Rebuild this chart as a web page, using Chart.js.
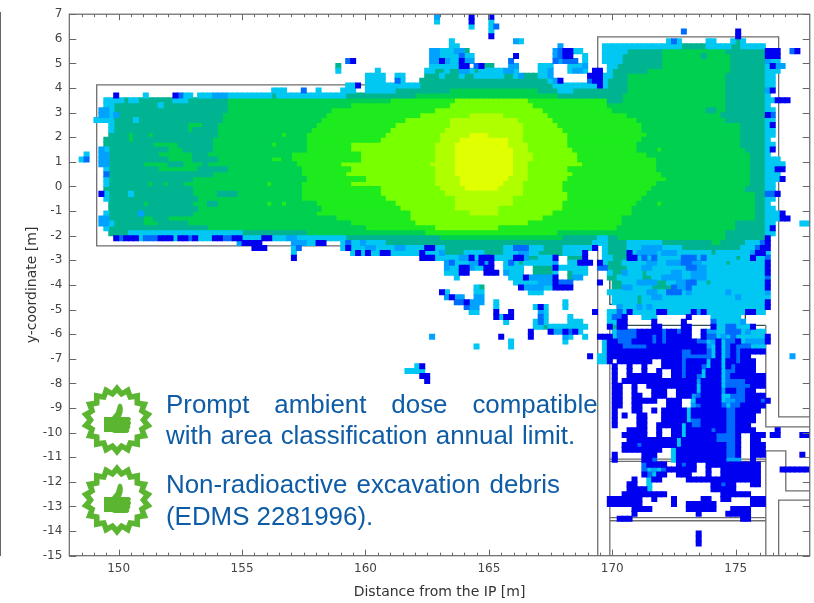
<!DOCTYPE html>
<html>
<head>
<meta charset="utf-8">
<title>Prompt ambient dose</title>
<script src="https://cdn.jsdelivr.net/npm/chart.js@4"></script>
<style>
  html, body { margin: 0; padding: 0; background: #fff; }
  #wrap { position: relative; width: 814px; height: 603px; overflow: hidden; }
  #dose-chart { position: absolute; left: 0; top: 0; filter: blur(0.4px); }
  #edge { position: absolute; left: 0; top: 12px; width: 1px; height: 544px; background: #666; }
  .note { position: absolute; left: 166px; font: 25.9px "Liberation Sans", Arial, sans-serif; color: #0f5ca6; white-space: nowrap; line-height: 30px; }
  .badge { position: absolute; left: 80px; width: 74px; height: 74px; }
</style>
</head>
<body>
<div id="wrap">
  <canvas id="dose-chart" width="814" height="603"></canvas>
  <div id="edge"></div>
  <svg class="badge" style="top:383px" viewBox="-37 -37 74 74"></svg>
  <svg class="badge" style="top:463px" viewBox="-37 -37 74 74"></svg>
  <div class="note" style="top:389px;word-spacing:17.7px">Prompt ambient dose compatible</div>
  <div class="note" style="top:420px;word-spacing:1.2px">with area classification annual limit.</div>
  <div class="note" style="top:469px;word-spacing:2px">Non-radioactive excavation debris</div>
  <div class="note" style="top:501px">(EDMS 2281996).</div>
</div>
<script>
const xTicks = [150, 155, 160, 165, 170, 175];
const yTicks = [7, 6, 5, 4, 3, 2, 1, 0, -1, -2, -3, -4, -5, -6, -7, -8, -9, -10, -11, -12, -13, -14, -15];
const xMinorTicks = [148.5, 149, 149.5, 150.5, 151, 151.5, 152, 152.5, 153, 153.5, 154, 154.5, 155.5, 156, 156.5, 157, 157.5, 158, 158.5, 159, 159.5, 160.5, 161, 161.5, 162, 162.5, 163, 163.5, 164, 164.5, 165.5, 166, 166.5, 167, 167.5, 168, 168.5, 169, 169.5, 170.5, 171, 171.5, 172, 172.5, 173, 173.5, 174, 174.5, 175.5, 176, 176.5, 177, 177.5];

// one colour per dose band, lowest first
const doseColours = ['#0000f0', '#006cff', '#00a2ff', '#00c8f2', '#00b492', '#00d050', '#1eeb1e', '#78ff00', '#b0ff00', '#e0ff00'];

// 0.2 m cells. Each row starts at y=7 going down, tokens are "column:band" and run up to the next token
const doseRows = [
  "74:2 75:. 81:0 82:. 85:0 86:.",
  "74:3 75:. 81:0 82:. 85:3 86:.",
  "81:3 82:. 85:3 86:1 87:.",
  "85:3 86:. 124:1 125:. 135:0 136:.",
  "85:0 86:. 135:0 136:.",
  "77:3 78:. 90:2 91:3 92:. 121:3 122:1 123:3 124:. 129:3 131:. 134:3 135:4 136:3 137:.",
  "77:3 79:. 99:2 100:. 108:3 124:4 129:3 134:4 136:3 141:.",
  "73:2 75:3 78:2 80:4 81:. 98:2 99:1 100:0 102:3 104:. 108:3 113:4 120:5 133:4 141:0 143:0 144:. 146:1 147:0 148:.",
  "73:2 75:3 79:1 80:3 82:. 90:0 91:. 98:2 99:1 100:0 102:. 104:3 105:. 108:3 112:4 120:5 128:4 129:5 134:4 141:0 144:.",
  "56:1 57:0 58:. 73:2 75:0 76:2 77:3 79:0 80:2 82:. 89:1 90:. 98:1 99:2 100:1 103:. 104:3 105:. 108:3 112:4 120:5 134:4 141:2 142:3 144:.",
  "54:4 55:. 73:3 79:0 81:. 82:1 83:0 84:4 86:. 89:2 91:. 95:3 98:. 101:3 104:2 105:. 109:3 111:4 120:5 134:4 141:3 142:0 143:2 145:.",
  "54:3 55:. 62:3 63:. 72:3 74:4 76:3 77:4 79:2 81:3 82:4 83:3 88:2 90:3 91:. 95:3 97:2 98:. 101:3 102:2 104:3 105:. 106:0 108:. 109:3 110:4 117:5 134:4 141:3 144:.",
  "60:3 64:. 66:3 68:. 72:4 75:3 76:4 79:3 80:4 82:3 88:4 90:3 91:2 92:4 95:3 97:2 98:. 105:0 108:3 110:4 113:5 133:4 141:3 143:.",
  "60:3 64:. 66:1 67:3 68:. 71:4 96:4 97:3 98:2 99:0 100:. 105:1 106:0 108:3 109:4 113:5 133:4 141:3 143:.",
  "56:3 58:0 59:. 60:3 71:4 98:3 106:3 107:0 108:3 109:4 113:5 133:4 141:3 143:.",
  "41:3 44:. 47:1 48:. 50:3 51:. 55:3 58:. 60:3 66:4 77:5 95:4 99:3 102:4 109:4 113:5 133:4 141:2 142:0 143:.",
  "9:0 10:. 15:3 16:. 21:0 22:1 23:3 25:. 26:3 29:2 32:3 41:4 42:3 56:4 70:5 99:4 112:5 133:4 141:3 142:.",
  "7:3 11:4 12:3 14:4 21:3 24:4 32:5 65:6 78:7 93:6 109:4 112:5 133:4 141:3 143:0 146:.",
  "7:3 9:4 18:3 19:4 32:5 57:6 77:7 94:6 109:5 133:4 141:3 142:.",
  "6:2 8:3 9:4 32:5 53:6 74:7 96:6 110:5 129:4 131:5 133:4 141:3 143:.",
  "6:2 8:3 9:2 10:4 31:5 52:6 71:7 81:8 88:7 97:6 113:5 132:4 141:0 142:1 143:.",
  "5:3 7:3 9:4 13:3 14:4 31:5 51:6 68:7 77:8 91:7 98:6 115:5 133:4 141:3 143:.",
  "8:3 9:4 24:5 27:4 30:5 50:6 66:7 77:8 92:7 99:6 116:5 136:4 141:3 142:0 143:.",
  "8:3 9:4 24:5 25:4 30:5 49:6 65:7 76:8 92:7 100:6 116:5 136:4 141:3 143:.",
  "8:4 12:5 13:4 16:5 17:4 30:5 43:6 44:5 48:6 64:7 75:8 81:9 85:8 92:7 101:6 117:5 136:4 141:3 143:.",
  "7:4 12:5 13:4 29:5 48:6 63:7 75:8 79:9 89:8 92:7 101:6 116:5 136:4 141:3 142:.",
  "7:4 17:5 22:4 29:5 41:6 42:5 48:6 57:7 74:8 78:9 89:8 93:7 101:6 115:5 136:4 141:3 143:.",
  "6:2 7:3 8:4 20:5 23:4 29:5 48:6 57:7 74:8 78:9 90:8 93:7 102:6 115:5 119:6 120:5 137:4 141:3 142:0 143:.",
  "3:3 4:. 6:2 8:4 18:5 25:4 28:5 45:6 59:7 74:8 78:9 90:8 94:7 103:6 117:5 138:4 141:3 142:.",
  "2:3 3:1 4:. 6:2 8:4 20:5 25:4 30:5 41:6 43:5 45:6 59:7 74:8 78:9 90:8 94:7 103:6 119:5 138:4 141:3 144:.",
  "6:2 8:4 15:5 20:4 23:5 27:4 28:5 46:6 55:7 73:8 78:9 90:8 93:7 104:6 119:5 138:4 141:3 145:.",
  "7:3 8:4 18:5 26:4 32:5 47:6 57:7 74:8 78:9 90:8 93:7 101:6 119:5 138:4 141:3 143:0 145:.",
  "7:1 8:4 29:5 47:6 56:7 74:8 78:9 90:8 93:7 102:6 120:5 138:4 141:3 144:.",
  "7:3 8:4 25:5 48:6 60:7 74:8 79:9 89:8 93:7 101:6 121:5 138:4 141:3 144:0 145:.",
  "7:3 8:4 16:5 17:4 19:5 20:4 23:5 40:6 41:5 47:6 57:7 74:8 79:9 88:8 92:7 100:6 119:5 138:4 141:3 143:.",
  "7:4 25:5 47:6 63:7 75:8 80:9 87:8 92:7 100:6 118:5 137:4 141:3 143:.",
  "6:0 7:3 8:4 12:3 13:4 25:5 30:4 34:5 47:6 63:7 76:8 92:7 101:6 117:5 139:4 141:1 143:0 144:.",
  "7:3 8:4 26:5 47:6 64:7 78:8 90:7 101:6 116:5 139:4 141:3 143:.",
  "8:4 15:5 16:4 25:5 28:4 30:5 40:6 41:5 43:6 44:5 50:6 66:7 78:8 90:7 100:6 115:5 119:6 120:5 139:4 141:3 142:.",
  "8:4 26:5 51:6 67:7 78:8 87:7 100:6 114:5 139:4 141:3 143:.",
  "7:3 8:4 14:2 15:4 25:5 50:6 69:7 81:8 87:7 98:6 114:5 139:4 141:3 144:0 145:.",
  "6:2 8:4 15:5 17:4 20:5 54:6 69:7 96:6 112:5 139:4 141:3 144:0 146:.",
  "6:2 8:3 9:4 15:5 18:4 24:5 57:6 70:7 93:6 112:5 135:4 141:3 143:. 148:3 150:.",
  "7:3 8:4 28:5 60:6 74:7 87:6 111:5 135:4 141:3 142:0 143:.",
  "8:4 12:3 35:4 48:5 72:6 99:5 133:4 141:3 143:.",
  "9:0 10:1 11:0 14:3 15:1 18:0 21:3 22:0 24:1 25:0 26:3 29:0 31:1 33:0 35:3 39:0 41:3 44:2 46:3 56:4 75:5 100:4 107:3 109:4 111:5 133:4 141:0 142:.",
  "34:2 35:0 38:0 39:. 45:2 48:3 50:0 52:. 55:3 56:1 57:3 59:2 60:3 64:4 99:4 106:3 109:4 113:3 120:4 130:5 132:4 137:3 140:1 141:0 142:.",
  "37:0 40:. 45:3 46:1 47:. 55:3 56:0 57:3 60:2 62:3 66:2 68:3 72:0 74:3 76:4 88:3 90:1 93:3 96:4 100:3 106:0 107:. 108:3 109:4 113:3 116:2 120:3 124:4 136:3 139:1 140:0 142:.",
  "45:3 46:. 57:3 58:0 59:3 60:0 61:3 63:0 65:3 71:0 72:3 75:2 76:4 80:3 84:4 88:3 91:2 93:3 95:4 100:3 104:0 105:. 108:3 109:4 113:0 114:3 115:2 119:3 120:2 123:3 130:4 131:3 138:2 139:0 141:3 142:.",
  "45:0 46:. 71:0 74:3 79:2 81:0 82:3 83:0 86:3 90:0 92:2 93:4 95:3 98:0 99:. 101:4 104:0 105:. 108:3 110:4 113:0 115:3 116:1 117:3 118:1 119:3 124:1 127:3 128:1 129:3 135:4 136:3 138:0 139:3 141:1 142:.",
  "76:2 77:1 78:3 81:2 83:0 84:2 85:0 86:. 88:3 89:1 90:3 91:4 92:3 98:2 99:. 101:3 103:0 106:. 107:0 108:3 109:4 112:3 117:2 119:3 121:2 124:1 126:2 128:3 133:4 134:3 141:0 142:.",
  "76:2 77:3 79:0 81:2 82:3 84:0 86:. 88:3 92:. 94:4 98:0 99:3 105:. 107:1 109:4 113:3 116:2 118:3 125:1 127:2 129:3 141:0 142:.",
  "76:3 79:0 81:. 84:0 87:. 88:2 89:3 92:. 94:4 98:3 99:. 101:4 102:3 105:. 109:3 110:4 112:2 113:3 116:4 117:3 122:2 124:3 126:2 129:3 141:0 142:.",
  "78:3 79:. 89:3 92:0 93:2 98:0 99:. 101:4 102:2 104:. 109:4 111:3 116:4 118:3 120:2 124:3 126:2 129:3 141:1 142:.",
  "90:3 95:2 98:0 99:1 102:. 107:0 108:. 110:4 112:3 115:2 119:4 121:3 123:2 125:1 127:3 129:4 130:3 141:0 142:.",
  "82:3 83:4 84:. 91:0 92:2 96:3 98:0 102:. 110:4 112:2 114:3 118:4 122:1 123:2 125:1 126:3 141:0 142:.",
  "75:0 76:3 77:. 82:3 84:. 93:3 96:. 109:3 117:2 119:3 121:1 124:3 125:2 126:3 133:2 134:3 141:2 142:.",
  "76:2 77:0 78:2 80:. 82:2 84:. 110:3 115:4 116:3 118:2 120:3 135:2 136:3 142:.",
  "78:1 80:0 81:2 84:. 86:3 87:. 100:3 101:. 110:3 115:4 116:3 141:0 142:.",
  "80:1 81:2 83:. 86:3 87:. 94:3 95:0 96:3 97:. 100:3 101:. 111:2 112:3 115:2 116:3 117:2 118:3 141:0 142:.",
  "81:3 83:. 86:0 87:. 89:0 90:. 95:2 96:3 97:. 106:0 107:. 109:3 111:1 112:3 113:0 114:3 119:0 121:3 126:0 127:2 128:0 129:3 137:0 139:3 141:.",
  "86:0 87:3 88:0 90:. 95:1 96:3 97:. 101:3 102:. 109:3 110:1 112:0 113:. 116:3 119:. 125:0 126:. 130:3 136:.",
  "88:3 89:. 94:3 95:1 96:3 97:. 101:3 104:. 109:3 111:0 113:. 118:0 119:. 124:0 125:. 130:1 131:3 136:2 137:.",
  "94:3 96:4 97:3 105:. 109:0 110:4 111:0 113:. 118:0 120:. 124:0 126:. 130:0 131:3 133:1 135:3 138:0 139:.",
  "93:0 94:. 97:0 98:2 100:0 101:1 102:0 103:3 104:. 110:3 111:1 115:0 120:1 121:0 123:1 124:0 126:. 128:0 129:2 131:3 133:1 136:3 137:2 138:3 141:.",
  "73:2 74:. 87:0 88:. 93:0 94:. 100:2 101:3 102:. 104:3 105:. 107:0 109:0 110:3 111:1 115:0 118:1 119:0 120:1 121:0 126:. 128:0 129:1 131:3 132:2 133:3 134:1 135:3 140:3 141:0 142:.",
  "89:3 90:. 100:3 101:. 108:3 109:0 111:1 114:0 118:1 119:0 120:1 121:0 127:1 129:3 130:2 131:0 132:3 133:1 135:0 136:3 137:2 141:0 142:.",
  "82:3 83:. 89:3 90:. 108:3 109:0 112:1 117:0 127:0 129:2 130:3 131:0 132:3 133:1 134:0 135:1 138:3 141:.",
  "108:3 109:0 124:1 126:0 129:1 130:3 131:0 132:3 133:1 134:0 135:1 136:0 141:.",
  "105:0 106:. 107:3 109:0 124:1 129:1 130:3 131:0 132:3 133:1 134:0 135:1 136:0 138:. 146:2 147:.",
  "107:3 109:0 110:. 111:0 118:. 120:0 124:1 125:0 129:3 130:0 132:3 133:0 135:1 136:0 139:.",
  "70:3 71:0 72:. 110:0 111:. 113:0 114:. 116:0 117:. 120:0 124:1 125:0 128:1 129:3 130:0 132:3 133:0 134:1 135:0 139:.",
  "68:3 71:3 72:. 110:0 111:. 113:0 114:. 116:0 117:. 119:0 120:. 122:0 124:1 125:0 128:3 129:0 132:3 133:1 135:0 139:.",
  "71:0 73:. 110:0 111:. 113:0 120:. 122:0 124:1 125:0 127:1 128:3 129:0 132:3 133:1 134:0 141:.",
  "72:0 73:. 110:0 111:. 112:0 127:2 128:0 132:3 133:1 137:0 141:.",
  "110:0 112:. 114:0 115:. 117:0 127:3 128:0 132:3 133:1 138:0 141:.",
  "110:0 112:. 114:0 115:. 118:0 121:. 123:0 127:3 128:0 132:2 133:0 135:1 137:0 139:.",
  "110:0 112:. 114:0 116:. 118:0 121:. 123:0 126:2 127:1 128:0 132:3 134:1 137:0 141:.",
  "110:0 112:. 114:0 119:. 121:0 124:. 126:3 127:0 132:3 133:2 135:1 137:0 140:1 141:0 142:.",
  "110:0 112:. 114:0 116:. 121:0 124:. 126:2 127:1 128:0 132:1 133:3 134:1 136:0 141:.",
  "110:0 111:. 114:0 116:. 118:0 119:. 120:0 125:3 126:0 133:1 135:0 140:.",
  "110:0 111:. 112:0 113:. 115:0 117:. 120:0 125:3 126:0 133:1 135:0 139:.",
  "110:0 111:. 115:0 117:. 120:0 125:3 126:1 128:0 133:1 135:0 139:.",
  "110:0 111:. 115:0 117:. 119:0 124:3 125:0 126:1 128:0 133:1 135:0 138:.",
  "113:0 117:. 119:0 120:. 122:0 124:3 125:0 130:1 131:0 133:1 135:0 139:. 143:0 144:.",
  "112:0 117:. 119:0 120:. 122:0 124:3 125:0 131:1 133:1 135:0 136:. 138:0 141:. 142:0 144:. 148:0 150:.",
  "113:0 123:3 124:0 131:1 135:0 136:. 138:0 140:.",
  "112:0 115:1 116:0 123:3 124:0 133:1 135:0 136:. 138:0 141:.",
  "112:0 120:. 122:3 123:0 133:1 135:0 136:. 138:0 141:.",
  "110:0 111:. 116:0 119:. 122:3 123:0 133:1 135:0 136:. 138:0 141:. 148:0 149:.",
  "110:0 111:. 116:0 118:1 119:. 122:3 123:0 133:2 136:. 138:0 139:.",
  "116:1 117:0 121:. 123:0 124:1 125:0 127:. 129:0 140:.",
  "116:1 117:3 118:2 119:3 120:1 121:0 127:. 129:0 130:. 132:0 140:. 144:0 150:.",
  "116:0 117:1 118:3 119:0 121:. 123:0 126:. 129:0 130:. 132:0 140:.",
  "114:0 115:. 117:3 118:0 120:. 125:0 140:.",
  "113:0 115:. 117:3 118:. 130:0 132:1 133:0 135:. 138:0 140:.",
  "113:0 117:3 118:. 130:0 135:.",
  "112:0 121:. 132:0 138:.",
  "109:0 116:. 118:0 119:. 122:0 123:. 128:0 130:. 132:0 134:. 138:0 141:.",
  "109:0 116:. 122:0 123:. 125:0 131:. 138:0 141:.",
  "114:0 118:. 125:0 131:. 134:0 138:.",
  "114:0 115:. 127:0 128:. 133:0 138:.",
  "111:0 114:. 136:0 138:.",
  "",
  "",
  "127:0 128:.",
  "127:0 128:.",
  "127:0 128:."
];

// tunnel outlines in metres, [x, y] corners
const innerOutline = [[149.81, 3.56], [169.9, 3.56], [169.9, 5.58], [176.22, 5.58], [176.22, -2.14], [175.39, -2.14], [175.39, -2.94], [176.22, -2.94], [176.22, -4.79], [175.39, -4.79], [175.39, -5.64], [176.22, -5.64]];
const innerOutlineLeft = [[149.81, 3.56], [149.81, -1.84], [169.9, -1.84], [169.9, -2.14], [170.2, -2.14], [170.2, -2.94], [169.9, -2.94], [169.9, -4.79], [170.2, -4.79], [170.2, -5.64], [169.9, -5.64]];
const alcoveTop = [[170.58, -2.14], [174.07, -2.14], [174.07, -2.94], [170.58, -2.94], [170.58, -2.14]];
const alcoveBottom = [[170.58, -4.79], [174.07, -4.79], [174.07, -5.64], [170.58, -5.64], [170.58, -4.79]];
const outerTop = [[169.41, 4.13], [149.11, 4.13], [149.11, -2.41], [169.41, -2.41], [169.41, -15]];
const outerRight = [[169.41, 4.13], [169.41, 6.08], [176.74, 6.08], [176.74, -9.36], [178, -9.36]];
const shaftLeft = [[169.9, -5.64], [169.9, -15]];
const shaftRight = [[176.22, -5.64], [176.22, -9.77], [178, -9.77]];
const shaftRightLow = [[178, -12.37], [177.03, -12.37], [177.03, -10.74], [176.22, -10.74], [176.22, -15]];
const sideGallery = [[178, -12.74], [176.74, -12.74], [176.74, -15]];
const floorA = [[169.9, -11.08], [176.22, -11.08]];
const floorB = [[169.9, -11.17], [176.22, -11.17]];
const floorC = [[169.9, -13.45], [176.22, -13.45]];
const floorD = [[169.9, -13.58], [176.22, -13.58]];

function rowsToBands(rows) {
  const bands = doseColours.map(() => []);
  rows.forEach((row, j) => {
    const tokens = row.split(' ').filter(Boolean).map(t => t.split(':'));
    tokens.forEach((t, k) => {
      if (t[1] === '.' || k === tokens.length - 1) return;
      const start = Number(t[0]);
      const end = Number(tokens[k + 1][0]);
      for (let i = start; i < end; i++) {
        bands[Number(t[1])].push({ x: 148 + 0.2 * (i + 0.5), y: 7 - 0.2 * (j + 0.5) });
      }
    });
  });
  return bands;
}

function outlineDataset(points, color) {
  return {
    type: 'scatter',
    data: points.map(p => ({ x: p[0], y: p[1] })),
    showLine: true,
    borderColor: color,
    borderWidth: 1.3,
    pointRadius: 0,
  };
}

// rects overlap by about a pixel so the antialiased edges leave no seams
const cellDatasets = rowsToBands(doseRows).map((cells, i) => ({
  data: cells,
  pointStyle: 'rect',
  pointRadius: 4.25,
  pointBorderWidth: 0,
  pointBorderColor: doseColours[i],
  backgroundColor: doseColours[i],
  pointBackgroundColor: doseColours[i],
}));

const GREY = '#6e6e6e';
const DARK = 'rgba(10,50,50,0.85)';
const outlineDatasets = [
  outlineDataset(outerTop, GREY),
  outlineDataset(outerRight, GREY),
  outlineDataset(shaftLeft, GREY),
  outlineDataset(shaftRight, GREY),
  outlineDataset(shaftRightLow, GREY),
  outlineDataset(sideGallery, GREY),
  outlineDataset(floorA, GREY),
  outlineDataset(floorB, GREY),
  outlineDataset(floorC, GREY),
  outlineDataset(floorD, GREY),
  outlineDataset(innerOutline, DARK),
  outlineDataset(innerOutlineLeft, DARK),
  outlineDataset(alcoveTop, DARK),
  outlineDataset(alcoveBottom, DARK),
];

// gnuplot style frame, ticks point inwards on all four sides
const framePlugin = {
  id: 'frame',
  afterDatasetsDraw(chart) {
    const { ctx, chartArea: a, scales } = chart;
    ctx.save();
    ctx.strokeStyle = '#666';
    ctx.lineWidth = 1;
    ctx.beginPath();
    xTicks.forEach(v => {
      const px = Math.round(scales.x.getPixelForValue(v)) + 0.5;
      ctx.moveTo(px, a.bottom); ctx.lineTo(px, a.bottom - 6);
      ctx.moveTo(px, a.top); ctx.lineTo(px, a.top + 6);
    });
    xMinorTicks.forEach(v => {
      const px = Math.round(scales.x.getPixelForValue(v)) + 0.5;
      ctx.moveTo(px, a.bottom); ctx.lineTo(px, a.bottom - 3);
      ctx.moveTo(px, a.top); ctx.lineTo(px, a.top + 3);
    });
    yTicks.forEach(v => {
      const py = Math.round(scales.y.getPixelForValue(v)) + 0.5;
      ctx.moveTo(a.left, py); ctx.lineTo(a.left + 7, py);
      ctx.moveTo(a.right, py); ctx.lineTo(a.right - 7, py);
    });
    ctx.stroke();
    ctx.lineWidth = 1.2;
    ctx.strokeRect(a.left, a.top, a.right - a.left, a.bottom - a.top);
    ctx.restore();
  },
};

new Chart(document.getElementById('dose-chart'), {
  type: 'scatter',
  data: { datasets: cellDatasets.concat(outlineDatasets) },
  plugins: [framePlugin],
  options: {
    responsive: false,
    animation: false,
    layout: { padding: { top: 13.3, right: 3, left: 0, bottom: 0 } },
    plugins: { legend: { display: false }, tooltip: { enabled: false } },
    scales: {
      x: {
        type: 'linear',
        min: 148,
        max: 178,
        afterBuildTicks: s => { s.ticks = xTicks.map(v => ({ value: v })); },
        afterFit: s => { s.height = 47.3; },
        grid: { display: false, drawTicks: false },
        border: { display: false },
        ticks: { color: '#444', padding: 6, maxRotation: 0, font: { family: 'DejaVu Sans', size: 12 }, callback: v => String(v) },
        title: { display: true, text: 'Distance from the IP [m]', color: '#333', padding: { top: 0, bottom: 2 }, font: { family: 'DejaVu Sans', size: 14 } },
      },
      y: {
        type: 'linear',
        min: -15,
        max: 7,
        afterBuildTicks: s => { s.ticks = yTicks.map(v => ({ value: v })); },
        afterFit: s => { s.width = 69.3; },
        grid: { display: false, drawTicks: false },
        border: { display: false },
        ticks: { color: '#444', padding: 7, autoSkip: false, font: { family: 'DejaVu Sans', size: 12 }, callback: v => String(v) },
        title: { display: true, text: 'y-coordinate [m]', color: '#333', padding: { top: 24, bottom: 0 }, font: { family: 'DejaVu Sans', size: 14 } },
      },
    },
  },
});

// green seal with a thumb, twice
function sealPoints(rOut, rIn, count) {
  const pts = [];
  for (let i = 0; i < count * 2; i++) {
    const r = i % 2 ? rIn : rOut;
    const a = Math.PI * i / count - Math.PI / 2;
    pts.push((r * Math.cos(a)).toFixed(1) + ',' + (r * Math.sin(a)).toFixed(1));
  }
  return pts.join(' ');
}
document.querySelectorAll('.badge').forEach(svg => {
  svg.innerHTML =
    `<polygon points="${sealPoints(36, 30, 18)}" fill="#5cb531"/>` +
    `<polygon points="${sealPoints(27, 23, 18)}" fill="#fff"/>` +
    `<path fill="#5cb531" d="M-13 -3 L-5 -3 L-1 -8 L1 -15 Q3 -18 5 -15 Q7 -10 4 -3 L12 -3 Q15 -2 13 1 Q15 3 13 5 Q14 8 12 9 Q13 12 10 13 L-3 13 L-5 12 L-13 12 Z"/>`;
});
</script>
</body>
</html>
